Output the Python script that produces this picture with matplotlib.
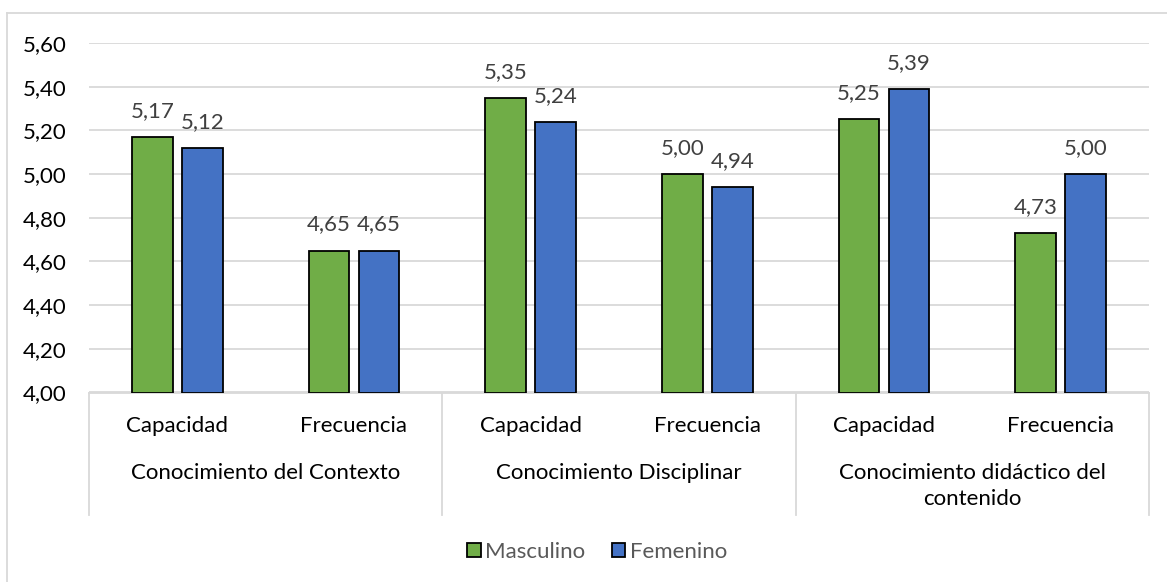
import matplotlib
matplotlib.use("Agg")
import matplotlib.pyplot as plt
from matplotlib.lines import Line2D
from matplotlib.patches import Patch
import numpy as np

plt.rcParams['font.family'] = ['Lato', 'DejaVu Sans']

groups = ["Conocimiento del Contexto", "Conocimiento Disciplinar",
          "Conocimiento didáctico del\ncontenido"]
subcats = ["Capacidad", "Frecuencia"] * 3
masculino = [5.17, 4.65, 5.35, 5.00, 5.25, 4.73]
femenino = [5.12, 4.65, 5.24, 4.94, 5.39, 5.00]
series_names = ["Masculino", "Femenino"]
yticks = [4.00, 4.20, 4.40, 4.60, 4.80, 5.00, 5.20, 5.40, 5.60]

GREEN = "#70AD47"
BLUE = "#4472C4"
GRID = "#D9D9D9"
FS = 16

W, H = 1167, 582
fig = plt.figure(figsize=(W / 100, H / 100), dpi=100)
ax_h = 392.5 - 43
ax = fig.add_axes([89 / W, 1 - 392.5 / H, (1149 - 89) / W, ax_h / H])

x = np.arange(len(subcats))
bw = 0.229
off = 0.1415
ax.bar(x - off, [v - 4 for v in masculino], bottom=4, width=bw, color=GREEN,
       edgecolor="black", linewidth=1.3, zorder=3)
ax.bar(x + off, [v - 4 for v in femenino], bottom=4, width=bw, color=BLUE,
       edgecolor="black", linewidth=1.3, zorder=3)

def fmt(v):
    return f"{v:.2f}".replace(".", ",")

for xs, vals in ((x - off, masculino), (x + off, femenino)):
    for xi, v in zip(xs, vals):
        ax.annotate(fmt(v), (xi, v), xytext=(0, 11.5), textcoords="offset points",
                    ha="center", va="bottom", fontsize=FS, color="#404040")

ax.set_xlim(-0.5, len(subcats) - 0.5)
ax.set_ylim(4.0, 5.6)
ax.set_yticks(yticks)
ax.set_yticklabels([fmt(t) for t in yticks], fontsize=FS, color="black")
ax.yaxis.grid(True, color=GRID, linewidth=1.3, zorder=0)
ax.set_axisbelow(True)
for s in ["top", "right", "left"]:
    ax.spines[s].set_visible(False)
ax.spines["bottom"].set_color(GRID)
ax.spines["bottom"].set_linewidth(1.3)
ax.tick_params(axis="y", length=0, pad=16)
ax.tick_params(axis="x", length=0, pad=17)
ax.set_xticks(x)
ax.set_xticklabels(subcats, fontsize=FS, color="black")

# group separators and group labels below the subcategory labels
trans = ax.get_xaxis_transform()
sep_bottom = -(515 - 392.5) / ax_h
for b in [-0.5, 1.5, 3.5, 5.5]:
    ax.add_line(Line2D([b, b], [0, sep_bottom], transform=trans, color=GRID,
                       linewidth=1.3, clip_on=False))
for i, g in enumerate(groups):
    ax.text(2 * i + 0.5, -(463 - 392.5) / ax_h, g, transform=trans,
            ha="center", va="top", fontsize=FS, color="black",
            linespacing=1.4)

# outer chart frame
fig.add_artist(Line2D([7 / W, 1], [1 - 13 / H, 1 - 13 / H], color=GRID,
                      linewidth=1.3, transform=fig.transFigure))
fig.add_artist(Line2D([7 / W, 7 / W], [1 - 13 / H, 0], color=GRID,
                      linewidth=1.3, transform=fig.transFigure))

handles = [Patch(facecolor=GREEN, edgecolor="black", linewidth=1.3),
           Patch(facecolor=BLUE, edgecolor="black", linewidth=1.3)]
fig.legend(handles, series_names, loc="center", bbox_to_anchor=(597 / W, 1 - 552 / H),
           ncol=2, frameon=False, fontsize=FS, labelcolor="#595959",
           handlelength=0.6, handleheight=0.6, handletextpad=0.2, columnspacing=1.2)

fig.savefig("out.png", dpi=100, facecolor="white")
